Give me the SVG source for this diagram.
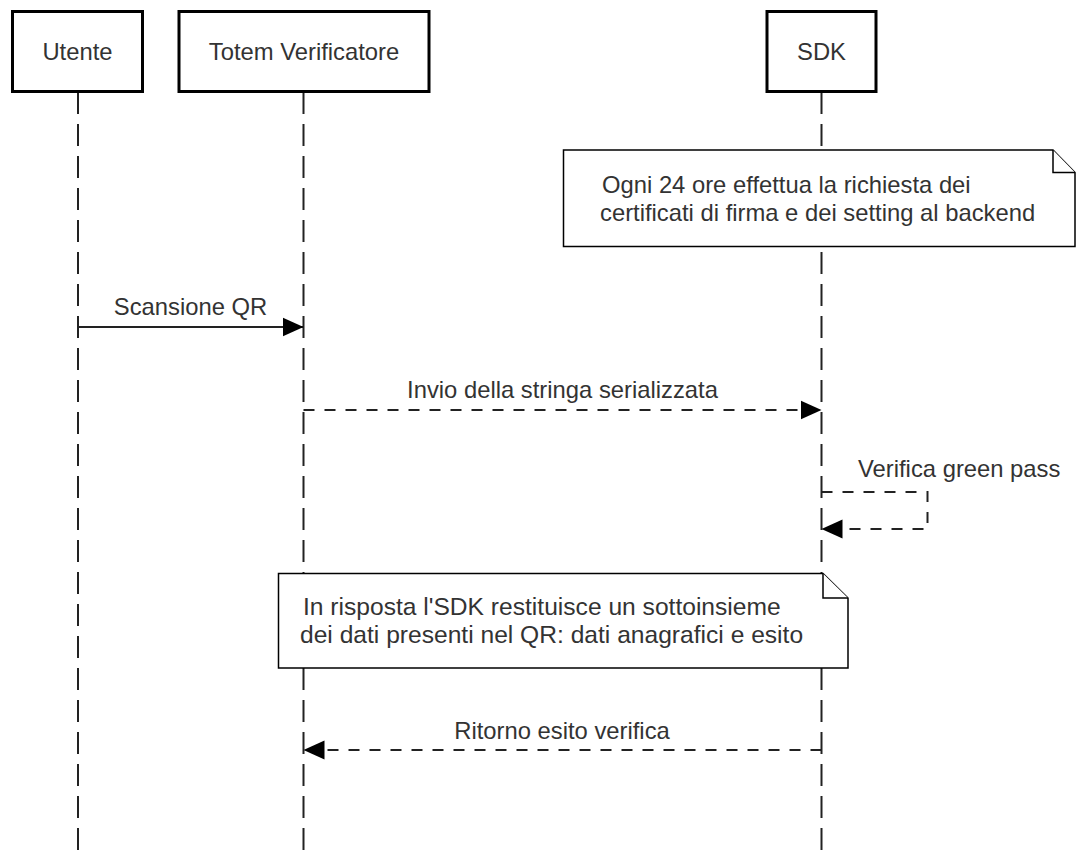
<svg xmlns="http://www.w3.org/2000/svg" width="1077" height="851" viewBox="0 0 1077 851">
<style>
.bg{fill:#ffffff}
.actor{fill:#ffffff;stroke:#000000;stroke-width:3}
.life{fill:none;stroke:#222222;stroke-width:2;stroke-dasharray:22 10}
.msg{fill:none;stroke:#222222;stroke-width:2}
.dash{stroke-dasharray:11 10}
.note{fill:#ffffff;stroke:#000000;stroke-width:1.5;stroke-linejoin:miter}
text{font-family:"Liberation Sans",Arial,sans-serif;font-size:23.8px;fill:#333333}
.c{text-anchor:middle}
.n2{font-size:24.6px}
</style>
<defs>
<marker id="arr" markerUnits="userSpaceOnUse" markerWidth="22" markerHeight="20" refX="21" refY="10" orient="auto">
<path d="M0,0.5 L21,10 L0,19.5 Z" fill="#000000"/>
</marker>
</defs>
<rect class="bg" x="0" y="0" width="1077" height="851"/>
<g id="lifelines">
<line class="life" x1="78" y1="92" x2="78" y2="851"/>
<line class="life" x1="303.5" y1="92" x2="303.5" y2="851"/>
<line class="life" x1="821.5" y1="92" x2="821.5" y2="851"/>
</g>
<g id="actor-utente">
<rect class="actor" x="12.5" y="11.5" width="130" height="80"/>
<text class="c" x="77.5" y="60">Utente</text>
</g>
<g id="actor-totem">
<rect class="actor" x="179" y="11.5" width="250" height="80"/>
<text class="c" x="304" y="60">Totem Verificatore</text>
</g>
<g id="actor-sdk">
<rect class="actor" x="767" y="11.5" width="109" height="80"/>
<text class="c" x="821.5" y="60">SDK</text>
</g>
<g id="note-sdk">
<path class="note" d="M563.5,150 L1053,150 L1075,172.5 L1075,246.5 L563.5,246.5 Z"/>
<path class="note" d="M1053,150 L1053,172.5 L1075,172.5"/>
<text x="602" y="192.5">Ogni 24 ore effettua la richiesta dei</text>
<text x="600" y="220.5">certificati di firma e dei setting al backend</text>
</g>
<g id="connectors">
<line class="msg" x1="78" y1="327" x2="303.5" y2="327" marker-end="url(#arr)"/>
<text class="c" x="190.5" y="315">Scansione QR</text>
<line class="msg dash" x1="303.5" y1="410" x2="821.5" y2="410" marker-end="url(#arr)"/>
<text class="c" x="562.5" y="398">Invio della stringa serializzata</text>
<path class="msg dash" d="M821.5,492 L927.5,492 L927.5,529 L821.5,529" marker-end="url(#arr)"/>
<text x="858" y="477">Verifica green pass</text>
<line class="msg dash" x1="821.5" y1="750" x2="303.5" y2="750" marker-end="url(#arr)"/>
<text class="c" x="562" y="739">Ritorno esito verifica</text>
</g>
<g id="note-qr">
<path class="note" d="M278.5,573.5 L823,573.5 L848,598 L848,668 L278.5,668 Z"/>
<path class="note" d="M823,573.5 L823,598 L848,598"/>
<text class="n2" x="303" y="614.5">In risposta l'SDK restituisce un sottoinsieme</text>
<text class="n2" x="300" y="643">dei dati presenti nel QR: dati anagrafici e esito</text>
</g>
</svg>
